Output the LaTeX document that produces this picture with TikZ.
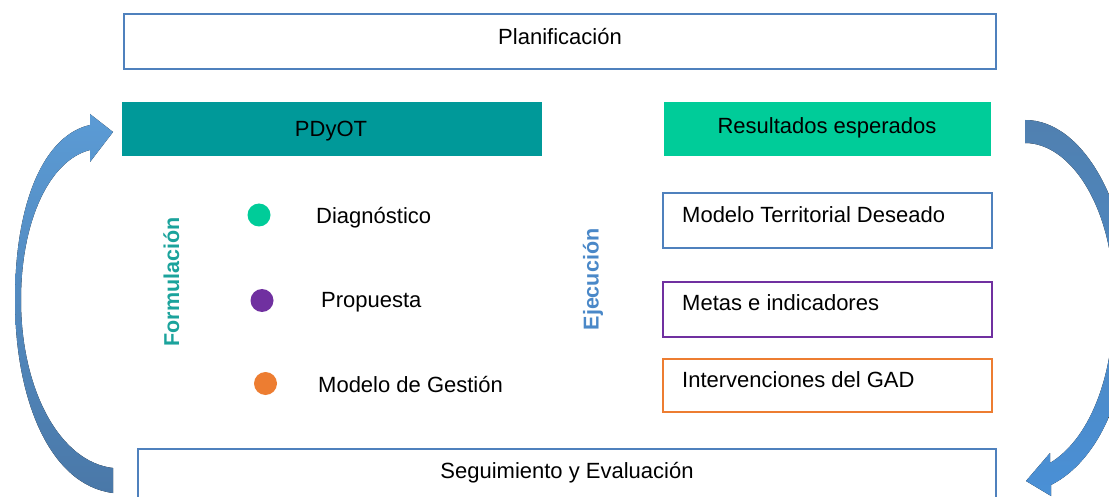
\documentclass[tikz,border=0pt]{standalone}
\usepackage{fontspec}
\setmainfont{Liberation Sans}
\definecolor{boxblue}{HTML}{4F81BD}
\definecolor{tealfill}{HTML}{009999}
\definecolor{mint}{HTML}{00CC99}
\definecolor{purp}{HTML}{7030A0}
\definecolor{orng}{HTML}{ED7D31}
\definecolor{formc}{HTML}{1BA39C}
\definecolor{ejec}{HTML}{4A88C8}
\definecolor{arrlight}{HTML}{5B9BD5}
\definecolor{arrdark}{HTML}{4A78A8}
\definecolor{rtop}{HTML}{5080B0}
\definecolor{rbot}{HTML}{4A90D6}
\begin{document}
\begin{tikzpicture}[x=1pt,y=-1pt,
  txt/.style={font=\fontsize{22}{26}\selectfont, inner sep=0pt},
  vtxt/.style={font=\fontsize{21.5}{26}\selectfont\bfseries, inner sep=0pt, rotate=90, anchor=base},
  frame/.style={draw=#1, line width=1.6pt, fill=white, inner sep=0pt},
  solidbox/.style={fill=#1, inner sep=0pt},
  dot/.style={circle, fill=#1, minimum size=23pt, inner sep=0pt},
]
\path[use as bounding box] (0,0) rectangle (1109,497);
\clip (0,0) rectangle (1109,497);
\fill[white] (0,0) rectangle (1109,497);

% cycle arrows
\fill[top color=arrlight, bottom color=arrdark]
  (113,493) .. controls (50,485) and (15,400) .. (15,300)
  .. controls (15,200) and (45,135) .. (90,125)
  -- (90,114) -- (113,132) -- (90,162) -- (90,150)
  .. controls (50,160) and (21,220) .. (21,300)
  .. controls (21,390) and (60,462) .. (113,468) -- cycle;
\fill[top color=rtop, bottom color=rbot]
  (1025,120) .. controls (1085,120) and (1130,210) .. (1130,300)
  .. controls (1130,390) and (1100,460) .. (1051,485)
  -- (1051,496) -- (1026,481) -- (1050,453) -- (1050,463)
  .. controls (1088,440) and (1114,380) .. (1114,300)
  .. controls (1114,210) and (1072,143) .. (1025,143) -- cycle;

% top box
\node[frame=boxblue, minimum width=872pt, minimum height=55pt] (plan) at (560,41.5) {};
\node[txt, anchor=base] (plantxt) at (560,45) {Planificación};

% headers
\node[solidbox=tealfill, minimum width=420pt, minimum height=54pt] (pdyot) at (332,129) {};
\node[txt, anchor=base] (pdyottxt) at (331,137) {PDyOT};
\node[solidbox=mint, minimum width=327pt, minimum height=54pt] (res) at (827.5,129) {};
\node[txt, anchor=base] (restxt) at (827,134) {Resultados esperados};

% formulation side
\node[vtxt, text=formc] (form) at (179,282) {Formulación};
\node[dot=mint] (d1) at (259,215) {};
\node[dot=purp] (d2) at (262,300.5) {};
\node[dot=orng] (d3) at (265.5,383.5) {};
\node[txt, anchor=base west] (diag) at (316,224) {Diagnóstico};
\node[txt, anchor=base west] (prop) at (321,308) {Propuesta};
\node[txt, anchor=base west] (gest) at (318,392.5) {Modelo de Gestión};

% execution side
\node[vtxt, text=ejec] (ejec) at (598.5,279.5) {Ejecución};
\node[frame=boxblue, minimum width=329pt, minimum height=55pt] (mtd) at (827.5,220.5) {};
\node[txt, anchor=base west] (mtdtxt) at (682,223) {Modelo Territorial Deseado};
\node[frame=purp, minimum width=329pt, minimum height=55pt] (metas) at (827.5,309.5) {};
\node[txt, anchor=base west] (metastxt) at (682,311) {Metas e indicadores};
\node[frame=orng, minimum width=329pt, minimum height=53pt] (interv) at (827.5,385.5) {};
\node[txt, anchor=base west] (intervtxt) at (682,387) {Intervenciones del GAD};

% bottom box
\node[frame=boxblue, minimum width=858pt, minimum height=62pt] (seg) at (567,480) {};
\node[txt, anchor=base] (segtxt) at (567,478) {Seguimiento y Evaluación};
\end{tikzpicture}
\end{document}
